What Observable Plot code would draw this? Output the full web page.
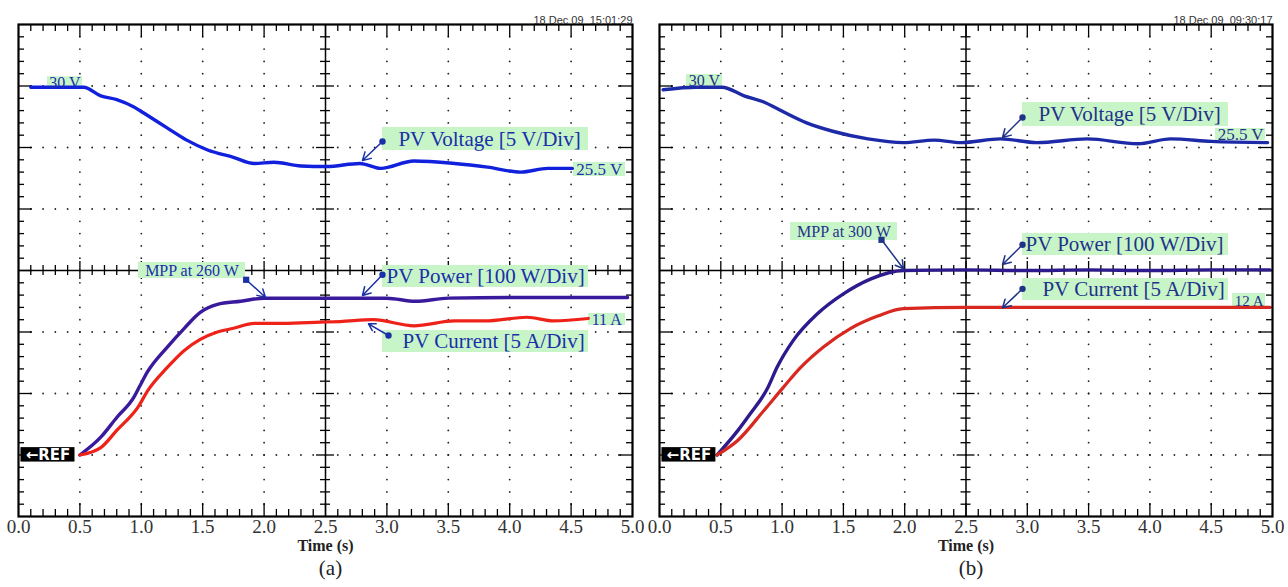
<!DOCTYPE html>
<html>
<head>
<meta charset="utf-8">
<script src="https://cdn.jsdelivr.net/npm/d3@7"></script>
<script src="https://cdn.jsdelivr.net/npm/@observablehq/plot@0.6"></script>
<style>
  html, body { margin: 0; padding: 0; background: #fff; width: 1288px; height: 587px; overflow: hidden; }
  #wrap { position: relative; width: 1288px; height: 587px; }
  .panel { position: absolute; top: 0; }
  .panel svg { overflow: visible; }
</style>
</head>
<body>
<div id="wrap">
  <div id="pa" class="panel" style="left:0px"></div>
  <div id="pb" class="panel" style="left:641px"></div>
</div>
<script>
// ---------- Data ----------
// Time axis ticks (s)
const timeTicks = [0, 0.5, 1.0, 1.5, 2.0, 2.5, 3.0, 3.5, 4.0, 4.5, 5.0];

// Channel scales (units per division); all channels referenced to REF (division 1)
const voltPerDiv = 5, wattPerDiv = 100, ampPerDiv = 5;

// Panel (a)
const aVoltT = [0.10, 0.30, 0.53, 0.67, 0.80, 0.94, 1.02, 1.21, 1.37, 1.54, 1.75, 1.92, 2.08, 2.30, 2.51, 2.78, 2.95, 3.22, 3.55, 3.82, 4.09, 4.31, 4.51];
const aVolt  = [29.9, 29.9, 29.9, 29.2, 28.9, 28.3, 27.8, 26.6, 25.6, 24.8, 24.2, 23.7, 23.8, 23.5, 23.45, 23.7, 23.3, 23.9, 23.7, 23.4, 23.0, 23.3, 23.3];
const aPowT  = [0.50, 0.67, 0.80, 0.94, 0.99, 1.05, 1.21, 1.35, 1.48, 1.62, 1.81, 2.00, 2.54, 3.00, 3.23, 3.50, 4.00, 4.50, 4.96];
const aPow   = [0, 29, 61, 94, 113, 135, 175, 206, 232, 245, 250, 255, 255, 255, 250, 255, 256, 256, 256];
const aCurT  = [0.50, 0.67, 0.80, 0.98, 1.05, 1.21, 1.35, 1.48, 1.62, 1.75, 1.92, 2.16, 2.46, 2.62, 2.89, 3.22, 3.55, 3.80, 4.14, 4.36, 4.64];
const aCur   = [0, 0.6, 2.0, 4.0, 5.2, 7.1, 8.5, 9.4, 10.0, 10.3, 10.7, 10.7, 10.8, 10.85, 11.0, 10.5, 10.9, 10.9, 11.2, 10.9, 11.1];

// Panel (b)
const bVoltT = [0.03, 0.30, 0.51, 0.69, 0.85, 1.01, 1.20, 1.42, 1.70, 1.99, 2.24, 2.46, 2.78, 3.08, 3.49, 3.90, 4.17, 4.50, 4.96];
const bVolt  = [29.7, 29.9, 29.9, 29.2, 28.7, 27.9, 27.0, 26.3, 25.7, 25.4, 25.6, 25.4, 25.7, 25.4, 25.7, 25.3, 25.7, 25.5, 25.4];
const bPowT  = [0.47, 0.64, 0.74, 0.88, 0.96, 1.09, 1.29, 1.50, 1.72, 1.99, 2.50, 3.00, 3.50, 4.00, 4.50, 4.98];
const bPow   = [0, 40, 67, 108, 143, 186, 230, 262, 286, 300, 301, 300, 301, 300, 301, 301];
const bCurT  = [0.47, 0.64, 0.85, 1.01, 1.15, 1.34, 1.56, 1.78, 1.99, 2.50, 3.00, 3.50, 4.00, 4.50, 4.98];
const bCur   = [0, 1.2, 3.6, 5.5, 7.1, 8.8, 10.3, 11.3, 11.9, 12.0, 12.0, 12.0, 12.0, 12.0, 12.0];

// Text content
const timestamps = ["18 Dec 09  15:01:29", "18 Dec 09  09:30:17"];
const panelLabels = ["(a)", "(b)"];
const axisTitle = "Time (s)";

// Annotation labels (box in time / division units)
const aLabels = [
  {text: "30 V", x1: 0.236, x2: 0.521, y1: 6.96, y2: 7.15, tx: 0.378, ty: 7.05, size: 16, anchor: "middle"},
  {text: "PV Voltage [5 V/Div]", x1: 2.964, x2: 4.642, y1: 5.951, y2: 6.325, tx: 3.094, ty: 6.14, size: 21, anchor: "start"},
  {text: "25.5 V", x1: 4.52, x2: 4.943, y1: 5.528, y2: 5.756, tx: 4.73, ty: 5.64, size: 17, anchor: "middle"},
  {text: "MPP at 260 W", x1: 0.977, x2: 1.849, y1: 3.870, y2: 4.130, tx: 1.413, ty: 4.0, size: 16, anchor: "middle"},
  {text: "PV Power [100 W/Div]", x1: 2.964, x2: 4.642, y1: 3.724, y2: 4.081, tx: 2.997, ty: 3.90, size: 21, anchor: "start"},
  {text: "PV Current [5 A/Div]", x1: 2.964, x2: 4.642, y1: 2.667, y2: 3.024, tx: 3.127, ty: 2.846, size: 21, anchor: "start"},
  {text: "11 A", x1: 4.642, x2: 4.943, y1: 3.106, y2: 3.301, tx: 4.79, ty: 3.20, size: 16, anchor: "middle"}
];
const aArrows = [
  {x1: 2.964, y1: 6.098, x2: 2.801, y2: 5.789, mark: "circle"},
  {x1: 1.854, y1: 3.849, x2: 2.011, y2: 3.566, mark: "square"},
  {x1: 2.964, y1: 3.93, x2: 2.801, y2: 3.593, mark: "circle"},
  {x1: 3.013, y1: 2.943, x2: 2.85, y2: 3.133, mark: "circle"}
];
const bLabels = [
  {text: "30 V", x1: 0.220, x2: 0.514, y1: 6.992, y2: 7.187, tx: 0.367, ty: 7.09, size: 16, anchor: "middle"},
  {text: "PV Voltage [5 V/Div]", x1: 2.961, x2: 4.641, y1: 6.341, y2: 6.732, tx: 3.091, ty: 6.537, size: 21, anchor: "start"},
  {text: "25.5 V", x1: 4.535, x2: 4.943, y1: 6.114, y2: 6.309, tx: 4.74, ty: 6.21, size: 17, anchor: "middle"},
  {text: "MPP at 300 W", x1: 1.069, x2: 1.941, y1: 4.488, y2: 4.780, tx: 1.505, ty: 4.634, size: 16, anchor: "middle"},
  {text: "PV Power [100 W/Div]", x1: 2.961, x2: 4.641, y1: 4.244, y2: 4.602, tx: 2.985, ty: 4.42, size: 21, anchor: "start"},
  {text: "PV Current [5 A/Div]", x1: 2.961, x2: 4.641, y1: 3.512, y2: 3.870, tx: 3.124, ty: 3.69, size: 21, anchor: "start"},
  {text: "12 A", x1: 4.674, x2: 4.943, y1: 3.415, y2: 3.626, tx: 4.81, ty: 3.50, size: 15, anchor: "middle"}
];
const bArrows = [
  {x1: 2.961, y1: 6.488, x2: 2.798, y2: 6.163, mark: "circle"},
  {x1: 1.811, y1: 4.499, x2: 1.990, y2: 4.028, mark: "square"},
  {x1: 2.961, y1: 4.418, x2: 2.798, y2: 4.098, mark: "circle"},
  {x1: 2.961, y1: 3.702, x2: 2.798, y2: 3.393, mark: "circle"}
];

// ---------- Helpers ----------
const zip = (ts, vs, perDiv) => ts.map((t, i) => ({t, d: 1 + vs[i] / perDiv}));

function graticule() {
  const vLines = d3.range(1, 10).filter(i => i !== 5).map(i => i * 0.5);
  const hLines = [1, 2, 3, 5, 6, 7];
  const dots = [];
  for (const t of vLines) for (let k = 1; k < 40; k++) dots.push({t, d: k * 0.2});
  for (const d of hLines) for (let k = 1; k < 50; k++) dots.push({t: k * 0.1, d});
  const tk = d3.range(1, 50).map(k => ({t: k * 0.1, major: k % 5 === 0}));
  const dk = d3.range(1, 40).map(k => ({d: k * 0.2, major: k % 5 === 0}));
  const pxT = 5 / 614, pxD = 8 / 492;
  return [
    Plot.dot(dots, {x: "t", y: "d", r: 0.9, fill: "#222", stroke: null}),
    Plot.ruleX(tk, {x: "t", y1: 8, y2: d => 8 - (d.major ? 13 : 7) * pxD, stroke: "#000", strokeWidth: 1.3}),
    Plot.ruleX(tk, {x: "t", y1: 0, y2: d => (d.major ? 13 : 7) * pxD, stroke: "#000", strokeWidth: 1.3}),
    Plot.ruleY(dk, {y: "d", x1: 0, x2: d => (d.major ? 14 : 6) * pxT, stroke: "#000", strokeWidth: 1.3}),
    Plot.ruleY(dk, {y: "d", x1: 5, x2: d => 5 - (d.major ? 14 : 6) * pxT, stroke: "#000", strokeWidth: 1.3}),
    Plot.ruleX([2.5], {stroke: "#000", strokeWidth: 1.5}),
    Plot.ruleY([4], {stroke: "#000", strokeWidth: 1.5}),
    Plot.ruleX(tk, {x: "t", y1: d => 4 - (d.major ? 9 : 5) * pxD, y2: d => 4 + (d.major ? 9 : 5) * pxD, stroke: "#000", strokeWidth: 1.3}),
    Plot.ruleY(dk, {y: "d", x1: d => 2.5 - (d.major ? 9 : 5) * pxT, x2: d => 2.5 + (d.major ? 9 : 5) * pxT, stroke: "#000", strokeWidth: 1.3})
  ];
}

function panel(o) {
  const startLabels = o.labels.filter(d => d.anchor === "start");
  const midLabels = o.labels.filter(d => d.anchor === "middle");
  return Plot.plot({
    width: o.width, height: 587,
    marginLeft: 18, marginRight: o.marginRight, marginTop: 24, marginBottom: 71,
    style: {fontFamily: "'Liberation Serif', 'Times New Roman', serif", fontSize: "19px", color: "#333", background: "transparent", overflow: "visible"},
    x: {domain: [0, 5], ticks: timeTicks, tickFormat: d3.format(".1f"), tickSize: 0, tickPadding: 3, label: null},
    y: {domain: [0, 8], axis: null},
    marks: [
      ...graticule(),
      Plot.rect(o.labels, {x1: "x1", x2: "x2", y1: "y1", y2: "y2", fill: "#c8f5c8"}),
      Plot.line(o.volt, {x: "t", y: "d", stroke: o.cV, strokeWidth: 3.4, curve: "monotone-x"}),
      Plot.line(o.pow, {x: "t", y: "d", stroke: o.cP, strokeWidth: 3.4, curve: "monotone-x"}),
      Plot.line(o.cur, {x: "t", y: "d", stroke: o.cI, strokeWidth: 3.2, curve: "monotone-x"}),
      Plot.text(startLabels, {x: "tx", y: "ty", text: "text", fontSize: "size", textAnchor: "start", fill: o.cT, fontFamily: "Liberation Serif"}),
      Plot.text(midLabels, {x: "tx", y: "ty", text: "text", fontSize: "size", textAnchor: "middle", fill: o.cT, fontFamily: "Liberation Serif"}),
      Plot.arrow(o.arrows, {x1: "x1", y1: "y1", x2: "x2", y2: "y2", stroke: o.cT, strokeWidth: 1.5, headLength: 9}),
      Plot.dot(o.arrows.filter(d => d.mark === "circle"), {x: "x1", y: "y1", r: 3.2, fill: o.cT}),
      Plot.dot(o.arrows.filter(d => d.mark === "square"), {x: "x1", y: "y1", r: 3.5, symbol: "square", fill: o.cT}),
      Plot.rect([{a: 0.02, b: 0.46}], {x1: "a", x2: "b", y1: 0.885, y2: 1.12, fill: "#000"}),
      Plot.text(["\u2190REF"], {x: 0.24, y: 1.0, fill: "#fff", fontWeight: "bold", fontSize: 15, fontFamily: "DejaVu Sans"}),
      Plot.frame({stroke: "#000", strokeWidth: 2.2}),
      Plot.text([o.stamp], {frameAnchor: "top-right", dy: -8, textAnchor: "end", fontSize: 11, fontFamily: "Liberation Sans", fill: "#333"}),
      Plot.text([axisTitle], {frameAnchor: "bottom", dy: 34, fontWeight: "bold", fontSize: 16, fill: "#222"}),
      Plot.text([o.panelLabel], {frameAnchor: "bottom", dx: 5, dy: 58, fontSize: 21, fill: "#222"})
    ]
  });
}

document.getElementById("pa").append(panel({
  width: 644, marginRight: 12,
  volt: zip(aVoltT, aVolt, voltPerDiv), pow: zip(aPowT, aPow, wattPerDiv), cur: zip(aCurT, aCur, ampPerDiv),
  labels: aLabels, arrows: aArrows,
  cV: "#1020dc", cP: "#3a1a9c", cI: "#ee2218", cT: "#1a30a8",
  stamp: timestamps[0], panelLabel: panelLabels[0]
}));
document.getElementById("pb").append(panel({
  width: 647, marginRight: 16,
  volt: zip(bVoltT, bVolt, voltPerDiv), pow: zip(bPowT, bPow, wattPerDiv), cur: zip(bCurT, bCur, ampPerDiv),
  labels: bLabels, arrows: bArrows,
  cV: "#1c2aa8", cP: "#2e1a8c", cI: "#d8281f", cT: "#1f3388",
  stamp: timestamps[1], panelLabel: panelLabels[1]
}));
</script>
</body>
</html>
